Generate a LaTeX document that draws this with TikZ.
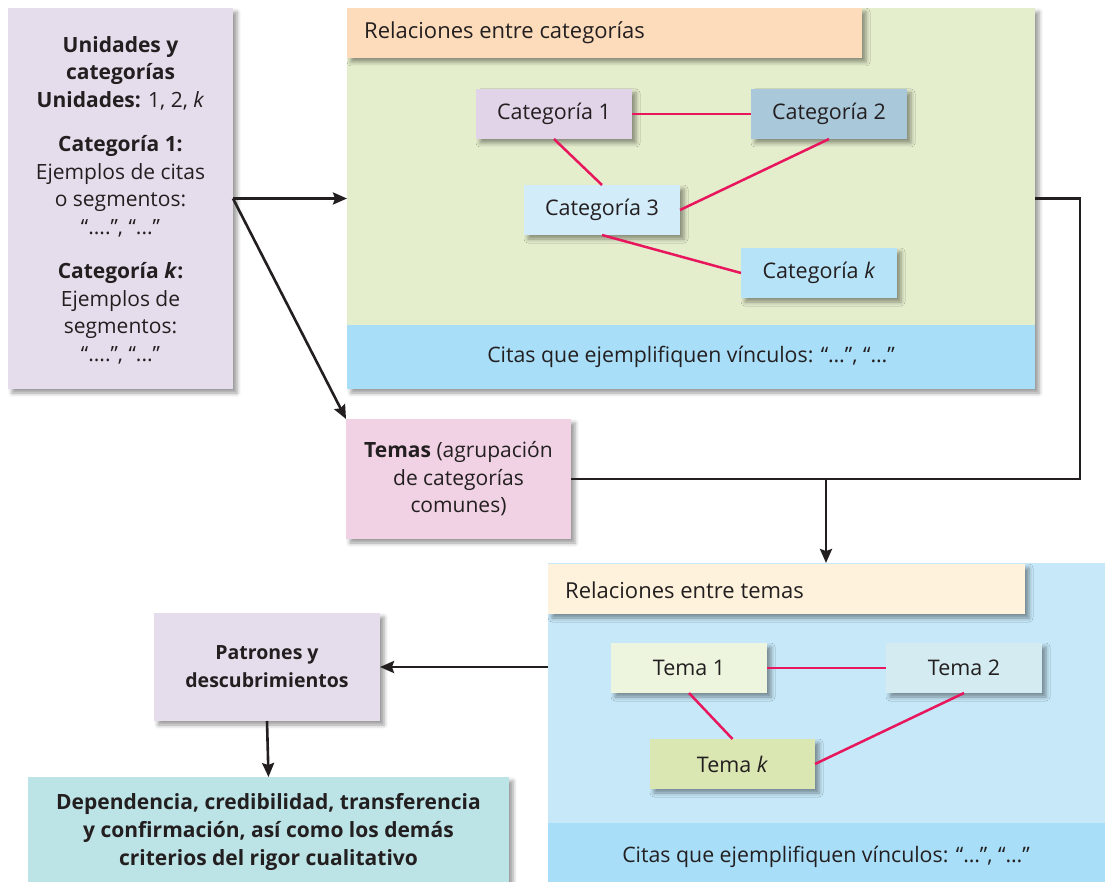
\documentclass[tikz,border=0pt]{standalone}
\usepackage{fontspec}
\setmainfont{Open Sans}
\usetikzlibrary{shadows.blur,arrows.meta,calc}
\definecolor{txt}{HTML}{231F20}
\definecolor{lav}{HTML}{E6DDEC}
\definecolor{green1}{HTML}{E4EDCC}
\definecolor{peach}{HTML}{FDDCBC}
\definecolor{band}{HTML}{A8DEF8}
\definecolor{cA}{HTML}{E1D4E8}
\definecolor{cB}{HTML}{A9C8DA}
\definecolor{cC}{HTML}{D3ECF9}
\definecolor{cK}{HTML}{B7E3F8}
\definecolor{pink}{HTML}{F0D2E4}
\definecolor{lblue}{HTML}{C6E8F8}
\definecolor{cream}{HTML}{FEF2DC}
\definecolor{tA}{HTML}{EEF5DF}
\definecolor{tB}{HTML}{D3EBF1}
\definecolor{tK}{HTML}{DAE7B2}
\definecolor{teal}{HTML}{BCE3E6}
\definecolor{linkred}{HTML}{E8175D}
\begin{document}
\begin{tikzpicture}[x=1pt,y=-1pt,
  font=\fontsize{21}{27.5}\selectfont, text=txt,
  box/.style={rectangle, inner sep=0pt, outer sep=0pt, align=center},
  shad/.style={blur shadow={shadow xshift=4pt, shadow yshift=-4pt, shadow blur radius=4pt, shadow opacity=40}},
  cat/.style={box, shad, minimum height=50pt, font=\fontsize{21.5}{26}\selectfont},
  head/.style={font=\fontsize{22}{26}\selectfont, anchor=west, inner sep=0pt},
  cita/.style={font=\fontsize{21.3}{26}\selectfont},
  link/.style={draw=linkred, line width=2.5pt},
  flow/.style={draw=txt, line width=2.6pt},
  arr/.style={flow, -{Stealth[length=14pt,width=12pt,inset=2pt]}}
]
\useasboundingbox (0,0) rectangle (1105,882);

% left box
\node[box, shad, fill=lav, minimum width=225pt, minimum height=381pt] (lbox) at (120.5,198.5) {};
\node[align=center] (ltext) at (120.5,200)
 {\textbf{Unidades y}\\\textbf{categorías}\\\textbf{Unidades:} 1, 2, \textit{k}\\[17pt]
  \textbf{Categoría 1:}\\Ejemplos de citas\\o segmentos:\\“....”, “...”\\[17pt]
  \textbf{Categoría \textit{k}:}\\Ejemplos de\\segmentos:\\“....”, “...”};

% categories box
\node[box, shad, fill=green1, minimum width=688pt, minimum height=381pt] (catbox) at (691,198.5) {};
\node[box, fill=band, minimum width=688pt, minimum height=64pt] (band1) at (691,357) {};
\node[cita] (band1t) at (691,357) {Citas que ejemplifiquen vínculos: “…”, “…”};
\node[box, shad, fill=peach, minimum width=515pt, minimum height=50pt] (head1) at (604.5,33) {};
\node[head] (head1t) at (364,33) {Relaciones entre categorías};

\node[cat, fill=cA, minimum width=156pt] (c1) at (554,114) {Categoría 1};
\node[cat, fill=cB, minimum width=156pt] (c2) at (829,114) {Categoría 2};
\node[cat, fill=cC, minimum width=156pt] (c3) at (602,210) {Categoría 3};
\node[cat, fill=cK, minimum width=156pt] (ck) at (819,273) {Categoría \textit{k}};

\draw[link] (c1.east) -- (c2.west);
\draw[link] (c1.south) -- (c3.north);
\draw[link] (c3.east) -- (c2.south);
\draw[link] (c3.south) -- (ck.west);

% temas
\node[box, shad, fill=pink, minimum width=225pt, minimum height=120pt] (temas) at (458.5,479)
 {\textbf{Temas} (agrupación\\de categorías\\comunes)};

% temas relations box
\node[box, shad, fill=lblue, minimum width=567pt, minimum height=329pt] (tembox) at (831.5,727.5) {};
\node[box, fill=band, minimum width=567pt, minimum height=69pt] (band2) at (831.5,857.5) {};
\node[cita] (band2t) at (826,857) {Citas que ejemplifiquen vínculos: “…”, “…”};
\node[box, shad, fill=cream, minimum width=477pt, minimum height=50pt] (head2) at (786.5,589) {};
\node[head] (head2t) at (565,590) {Relaciones entre temas};

\node[cat, fill=tA, minimum width=156pt] (t1) at (689,668) {Tema 1};
\node[cat, fill=tB, minimum width=156pt] (t2) at (964,668) {Tema 2};
\node[cat, fill=tK, minimum width=165pt] (tk) at (732.5,764) {Tema \textit{k}};

\draw[link] (t1.east) -- (t2.west);
\draw[link] (t1.south) -- (tk.north);
\draw[link] (tk.east) -- (t2.south);

% patrones and dependencia
\node[box, shad, fill=lav, minimum width=226pt, minimum height=108pt,
      font=\bfseries\fontsize{19.5}{28}\selectfont] (pat) at (267,667)
 {Patrones y\\descubrimientos};
\node[box, shad, fill=teal, minimum width=481pt, minimum height=115pt] (dep) at (268.5,834.5) {};
\node[align=center, font=\bfseries\fontsize{21}{28}\selectfont] (dept) at (268.5,832)
 {Dependencia, credibilidad, transferencia\\y confirmación, así como los demás\\criterios del rigor cualitativo};

% flow connectors
\draw[arr] (lbox.east) -- (catbox.west);
\draw[arr] (lbox.east) -- (temas.north west);
\coordinate (cr) at (1080,479);
\coordinate (jn) at (826,479);
\draw[flow] (catbox.east) -| (cr) -- (temas.east);
\draw[arr] (jn) -- (jn |- tembox.north);
\draw[arr] (tembox.west |- pat.east) -- (pat.east);
\draw[arr] (pat.south) -- (dep.north);
\end{tikzpicture}
\end{document}
